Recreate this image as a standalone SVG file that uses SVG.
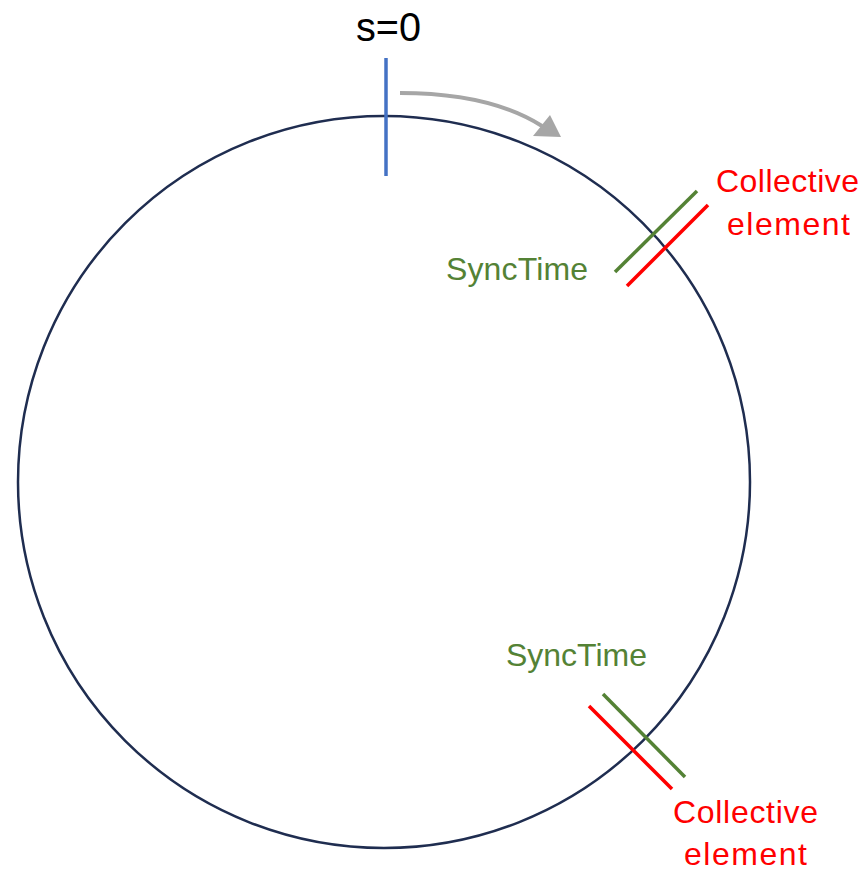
<svg xmlns="http://www.w3.org/2000/svg" width="866" height="872" viewBox="0 0 866 872">
<style>
text{font-family:"Liberation Sans","Open Sans",sans-serif}
.red{fill:#ff0000;font-size:32px}
.grn{fill:#548235;font-size:32px}
.lg{stroke:#548235;stroke-width:3.5}
.lr{stroke:#ff0000;stroke-width:3.5}
</style>
<rect width="866" height="872" fill="#ffffff"/>
<g id="ring"><circle cx="384" cy="482" r="366" fill="none" stroke="#1f2d50" stroke-width="2.5"/></g>
<g id="connectors">
<path d="M400,93 Q490,93 542,126" fill="none" stroke="#a6a6a6" stroke-width="4"/>
<path d="M533,136 L561,137 L550,115 Z" fill="#a6a6a6"/>
</g>
<g id="start">
<line x1="386" y1="58" x2="386" y2="176" stroke="#4472c4" stroke-width="3.5"/>
<text x="356" y="41" font-size="40" fill="#000000" textLength="65" lengthAdjust="spacingAndGlyphs">s=0</text>
</g>
<g id="top-sync">
<line class="lg" x1="697" y1="191" x2="615" y2="272"/>
<text class="grn" x="446" y="280" textLength="142">SyncTime</text>
</g>
<g id="top-collective">
<line class="lr" x1="708" y1="205" x2="627" y2="286"/>
<text class="red" x="716" y="192" textLength="143">Collective</text>
<text class="red" x="727" y="235" textLength="123">element</text>
</g>
<g id="bottom-sync">
<line class="lg" x1="603" y1="694" x2="685" y2="777"/>
<text class="grn" x="506" y="666" textLength="141">SyncTime</text>
</g>
<g id="bottom-collective">
<line class="lr" x1="589" y1="706" x2="672" y2="789"/>
<text class="red" x="673" y="823" textLength="145">Collective</text>
<text class="red" x="684" y="865" textLength="123">element</text>
</g>
</svg>
